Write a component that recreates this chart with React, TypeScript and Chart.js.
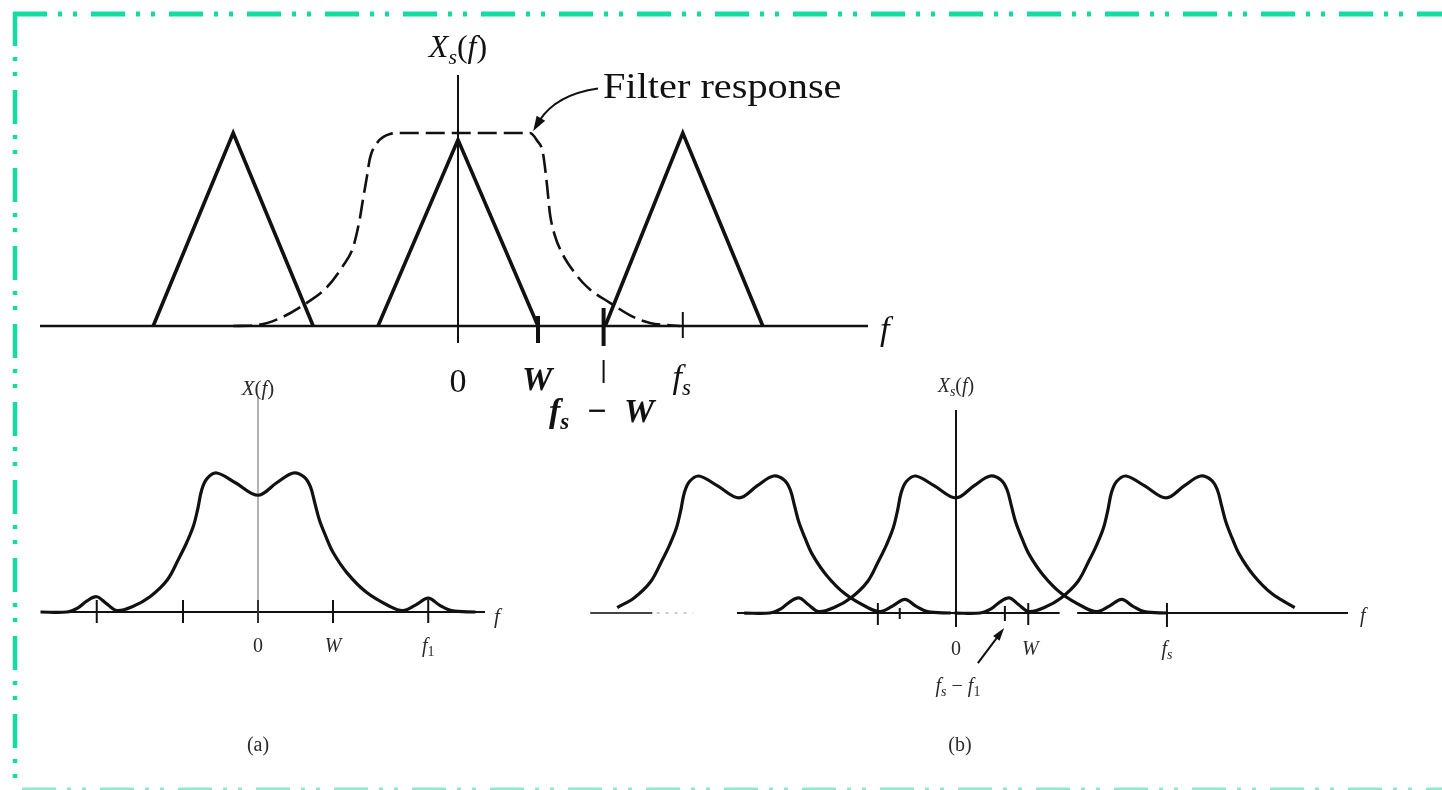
import React, { useEffect, useRef } from "react";
import { Chart, registerables } from "chart.js";

Chart.register(...registerables);

// ---------------- DATA (frequency in units of W, magnitude normalised) ----------------
// Top panel: sampled spectrum X_s(f) (three triangles) and the reconstruction filter
const TRI_LEFT_F = [-3.81, -2.81, -1.81];
const TRI_LEFT_MAG = [0, 1.0, 0];
const TRI_CENTER_F = [-1.0, 0, 1.0];
const TRI_CENTER_MAG = [0, 0.965, 0];
const TRI_RIGHT_F = [1.84, 2.81, 3.81];
const TRI_RIGHT_MAG = [0, 1.0, 0];

const FILTER_F = [-2.81, -2.51, -2.19, -1.89, -1.64, -1.44, -1.31, -1.23, -1.19, -1.14, -1.1, -1.01, -0.85, -0.72,
  0.9, 0.99, 1.06, 1.11, 1.15, 1.21, 1.31, 1.45, 1.62, 1.9, 2.19, 2.4, 2.78];
const FILTER_MAG = [0, 0.005, 0.047, 0.12, 0.2, 0.31, 0.41, 0.55, 0.65, 0.77, 0.87, 0.95, 0.995, 1.0,
  1.0, 0.96, 0.9, 0.74, 0.58, 0.47, 0.37, 0.28, 0.2, 0.12, 0.047, 0.016, 0];

const TOP_TICK_F = [0, 1, 1.82, 2.81]; // 0, W, fs-W, fs

// Panel (a): baseband spectrum X(f)
const XF_F = [-2.9, -2.55, -2.4, -2.28, -2.15, -2.02, -1.88, -1.67, -1.44, -1.21, -1.06, -0.95, -0.86, -0.8, -0.75,
  -0.68, -0.55, -0.3, 0, 0.25, 0.47, 0.62, 0.7, 0.76, 0.82, 0.9, 1.0, 1.19, 1.45, 1.76, 1.93, 2.1, 2.27, 2.42, 2.58, 2.9];
const XF_MAG = [0, 0, 0.03, 0.08, 0.11, 0.06, 0.01, 0.04, 0.11, 0.23, 0.38, 0.5, 0.62, 0.75, 0.88,
  0.96, 1.0, 0.93, 0.84, 0.93, 1.0, 0.97, 0.9, 0.78, 0.66, 0.55, 0.43, 0.28, 0.14, 0.04, 0.01, 0.05, 0.1, 0.05, 0.01, 0];
const A_TICK_F = [-2.15, -1, 0, 1, 2.27]; // -f1, -W, 0, W, f1

// Panel (b): spectrum copies centred at -fs, 0, fs (visible range of each copy, relative to its centre)
const B_COPY_SHIFT = [-2.97, 0, 2.88];
const B_COPY_FROM = [-1.7, -3, -3];
const B_COPY_TO = [3, 3, 1.77];
const B_TICK_F = [-1.07, -0.77, 0, 0.67, 0.99, 2.89]; // ..., 0, fs-f1, W, fs

// ---------------- TEXT ----------------
type Seg = { t: string; i?: boolean; b?: boolean; sub?: boolean };
const TOP_TITLE: Seg[] = [{ t: "X", i: true }, { t: "s", i: true, sub: true }, { t: "(" }, { t: "f", i: true }, { t: ")" }];
const FILTER_LABEL = "Filter response";
const TOP_TICK_LABELS: Seg[][] = [
  [{ t: "0" }],
  [{ t: "W", i: true, b: true }],
  [{ t: "f", i: true, b: true }, { t: "s", i: true, b: true, sub: true }, { t: "  \u2212  W", i: true, b: true }],
  [{ t: "f", i: true }, { t: "s", i: true, sub: true }],
];
const A_TITLE: Seg[] = [{ t: "X", i: true }, { t: "(" }, { t: "f", i: true }, { t: ")" }];
const A_TICK_LABELS: Seg[][] = [[], [], [{ t: "0" }], [{ t: "W", i: true }], [{ t: "f", i: true }, { t: "1", sub: true }]];
const B_TITLE: Seg[] = [{ t: "X", i: true }, { t: "s", i: true, sub: true }, { t: "(" }, { t: "f", i: true }, { t: ")" }];
const B_TICK_LABELS: Seg[][] = [[], [], [{ t: "0" }], [], [{ t: "W", i: true }], [{ t: "f", i: true }, { t: "s", i: true, sub: true }]];
const B_FS_F1: Seg[] = [{ t: "f", i: true }, { t: "s", i: true, sub: true }, { t: " \u2212 " }, { t: "f", i: true }, { t: "1", sub: true }];
const AXIS_F: Seg[] = [{ t: "f", i: true }];
const CAP_A: Seg[] = [{ t: "(a)" }];
const CAP_B: Seg[] = [{ t: "(b)" }];

// ---------------- STYLE / LAYOUT ----------------
const PAGE_W = 1442;
const PAGE_H = 790;
const INK = "#111";
const SOFT_INK = "#2a2a2a";
const BORDER = "#14dca0";
const FONT = '"Liberation Serif", "DejaVu Serif", "Times New Roman", serif';

type Pt = { x: number; y: number };
const pts = (xs: number[], ys: number[], shift = 0, from = -Infinity, to = Infinity): Pt[] =>
  xs.map((x, k) => ({ x, y: ys[k] })).filter((p) => p.x >= from && p.x <= to).map((p) => ({ x: p.x + shift, y: p.y }));

function drawRich(ctx: CanvasRenderingContext2D, segs: Seg[], x: number, y: number, size: number,
  align: "left" | "center" = "center", stretch = 1, color = INK) {
  if (!segs.length) return;
  const fontFor = (s: Seg) =>
    `${s.i ? "italic " : ""}${s.b ? "bold " : ""}${s.sub ? Math.round(size * 0.68) : size}px ${FONT}`;
  ctx.save();
  let total = 0;
  const widths = segs.map((s) => {
    ctx.font = fontFor(s);
    const w = ctx.measureText(s.t).width;
    total += w;
    return w;
  });
  ctx.translate(x, y);
  ctx.scale(stretch, 1);
  let cx = align === "center" ? -total / 2 : 0;
  ctx.fillStyle = color;
  ctx.textAlign = "left";
  ctx.textBaseline = "alphabetic";
  segs.forEach((s, k) => {
    ctx.font = fontFor(s);
    ctx.fillText(s.t, cx, s.sub ? size * 0.22 : 0);
    cx += widths[k];
  });
  ctx.restore();
}

function line(ctx: CanvasRenderingContext2D, x1: number, y1: number, x2: number, y2: number, w: number, color = INK, dash: number[] = []) {
  ctx.save();
  ctx.strokeStyle = color;
  ctx.lineWidth = w;
  ctx.setLineDash(dash);
  ctx.lineCap = "butt";
  ctx.beginPath();
  ctx.moveTo(x1, y1);
  ctx.lineTo(x2, y2);
  ctx.stroke();
  ctx.restore();
}

function arrowHead(ctx: CanvasRenderingContext2D, tx: number, ty: number, ang: number, len: number, half: number) {
  ctx.save();
  ctx.fillStyle = INK;
  ctx.beginPath();
  ctx.moveTo(tx, ty);
  ctx.lineTo(tx - len * Math.cos(ang) + half * Math.sin(ang), ty - len * Math.sin(ang) - half * Math.cos(ang));
  ctx.lineTo(tx - len * Math.cos(ang) - half * Math.sin(ang), ty - len * Math.sin(ang) + half * Math.cos(ang));
  ctx.closePath();
  ctx.fill();
  ctx.restore();
}

function drawBorder(ctx: CanvasRenderingContext2D) {
  const pattern = [34, 11, 4, 11, 4, 14];
  ctx.save();
  ctx.strokeStyle = BORDER;
  ctx.lineCap = "butt";
  ctx.setLineDash(pattern);
  ctx.lineWidth = 5;
  ctx.beginPath();
  ctx.moveTo(13, 14);
  ctx.lineTo(PAGE_W, 14);
  ctx.stroke();
  ctx.lineWidth = 4.5;
  ctx.beginPath();
  ctx.moveTo(15, 12);
  ctx.lineTo(15, PAGE_H);
  ctx.stroke();
  ctx.strokeStyle = "#8fe9cf";
  ctx.lineWidth = 3;
  ctx.beginPath();
  ctx.moveTo(22, 789);
  ctx.lineTo(PAGE_W, 789);
  ctx.stroke();
  ctx.restore();
}

type Panel = { left: number; right: number; top: number; bottom: number; xMin: number; xMax: number; yMin: number; yMax: number };

const TOP_PANEL: Panel = { left: 40, right: 868, top: 75, bottom: 343, xMin: -5.225, xMax: 5.125, yMin: -0.088, yMax: 1.3005 };
const A_PANEL: Panel = { left: 42, right: 485, top: 397, bottom: 623, xMin: -2.88, xMax: 3.027, yMin: -0.079, yMax: 1.547 };
const B_PANEL: Panel = { left: 580, right: 1348, top: 410, bottom: 627, xMin: -5.15, xMax: 5.37, yMin: -0.102, yMax: 1.482 };

function makeConfig(panel: Panel, datasets: any[], plugin: any): any {
  return {
    type: "line",
    data: { datasets },
    options: {
      responsive: false,
      animation: false,
      devicePixelRatio: 1,
      events: [],
      layout: {
        padding: { left: panel.left, top: panel.top, right: PAGE_W - panel.right, bottom: PAGE_H - panel.bottom },
      },
      scales: {
        x: { type: "linear", min: panel.xMin, max: panel.xMax, display: false },
        y: { type: "linear", min: panel.yMin, max: panel.yMax, display: false },
      },
      plugins: { legend: { display: false }, tooltip: { enabled: false } },
    },
    plugins: [plugin],
  };
}

const curveDs = (data: Pt[], width: number, extra: any = {}) => ({
  data,
  borderColor: INK,
  borderWidth: width,
  pointRadius: 0,
  fill: false,
  clip: false,
  borderJoinStyle: "round",
  ...extra,
});

function topConfig() {
  const tri = (f: number[], m: number[]) => curveDs(pts(f, m), 3.6, { tension: 0, borderJoinStyle: "miter" });
  const datasets = [
    tri(TRI_LEFT_F, TRI_LEFT_MAG),
    tri(TRI_CENTER_F, TRI_CENTER_MAG),
    tri(TRI_RIGHT_F, TRI_RIGHT_MAG),
    curveDs(pts(FILTER_F, FILTER_MAG), 2.6, { cubicInterpolationMode: "monotone", borderDash: [19, 7] }),
  ];
  const plugin = {
    id: "topDecor",
    beforeDatasetsDraw(chart: any) {
      const { ctx, scales } = chart;
      const X = (v: number) => scales.x.getPixelForValue(v);
      const Y = (v: number) => scales.y.getPixelForValue(v);
      line(ctx, X(TOP_PANEL.xMin), Y(0), X(TOP_PANEL.xMax), Y(0), 2.5);
      line(ctx, X(0), Y(TOP_PANEL.yMax), X(0), Y(TOP_PANEL.yMin), 2);
    },
    afterDatasetsDraw(chart: any) {
      const { ctx, scales } = chart;
      const X = (v: number) => scales.x.getPixelForValue(v);
      const Y = (v: number) => scales.y.getPixelForValue(v);
      const y0 = Y(0);
      // ticks
      line(ctx, X(TOP_TICK_F[1]), y0 - 10, X(TOP_TICK_F[1]), y0 + 17, 4);
      line(ctx, X(TOP_TICK_F[2]), y0 - 18, X(TOP_TICK_F[2]), y0 + 20, 4);
      line(ctx, X(TOP_TICK_F[2]), y0 + 34, X(TOP_TICK_F[2]), y0 + 57, 2);
      line(ctx, X(TOP_TICK_F[3]), y0 - 14, X(TOP_TICK_F[3]), y0 + 12, 2);
      // tick labels
      drawRich(ctx, TOP_TICK_LABELS[0], X(TOP_TICK_F[0]), y0 + 66, 34);
      drawRich(ctx, TOP_TICK_LABELS[1], X(TOP_TICK_F[1]) - 1, y0 + 64, 34);
      drawRich(ctx, TOP_TICK_LABELS[2], X(TOP_TICK_F[2]) - 2, y0 + 96, 34);
      drawRich(ctx, TOP_TICK_LABELS[3], X(TOP_TICK_F[3]) - 1, y0 + 62, 34);
      drawRich(ctx, AXIS_F, X(TOP_PANEL.xMax) + 12, y0 + 14, 34, "left");
      drawRich(ctx, TOP_TITLE, X(0), Y(TOP_PANEL.yMax) - 18, 32);
      // filter response annotation
      const tipX = X(0.94), tipY = Y(1.01);
      const sx = X(1.75), sy = Y(1.23);
      ctx.save();
      ctx.strokeStyle = INK;
      ctx.lineWidth = 2;
      ctx.beginPath();
      ctx.moveTo(sx, sy);
      ctx.quadraticCurveTo(sx - 42, sy + 6, tipX + 6, tipY - 10);
      ctx.stroke();
      ctx.restore();
      arrowHead(ctx, tipX, tipY, Math.atan2(10, -6), 15, 5);
      drawRich(ctx, [{ t: FILTER_LABEL }], sx + 5, sy + 9, 36, "left", 1.12);
    },
    afterDraw(chart: any) {
      drawBorder(chart.ctx);
    },
  };
  return makeConfig(TOP_PANEL, datasets, plugin);
}

const SMOOTH = { tension: 0.35 };

function aConfig() {
  const datasets = [curveDs(pts(XF_F, XF_MAG), 3.2, SMOOTH)];
  const plugin = {
    id: "aDecor",
    beforeDatasetsDraw(chart: any) {
      const { ctx, scales } = chart;
      const X = (v: number) => scales.x.getPixelForValue(v);
      const Y = (v: number) => scales.y.getPixelForValue(v);
      line(ctx, X(A_PANEL.xMin), Y(0), X(A_PANEL.xMax), Y(0), 2);
      line(ctx, X(0), Y(A_PANEL.yMax), X(0), Y(A_PANEL.yMin), 1.5, "#9a9a9a");
    },
    afterDatasetsDraw(chart: any) {
      const { ctx, scales } = chart;
      const X = (v: number) => scales.x.getPixelForValue(v);
      const Y = (v: number) => scales.y.getPixelForValue(v);
      const y0 = Y(0);
      A_TICK_F.forEach((f, k) => {
        line(ctx, X(f), y0 - 12, X(f), y0 + 11, 2, k === 2 ? "#333" : INK);
        drawRich(ctx, A_TICK_LABELS[k], X(f), y0 + 40, 20, "center", 1, SOFT_INK);
      });
      drawRich(ctx, AXIS_F, X(A_PANEL.xMax) + 9, y0 + 11, 21, "left", 1, SOFT_INK);
      drawRich(ctx, A_TITLE, X(0), Y(A_PANEL.yMax) - 2, 21, "center", 1, SOFT_INK);
      drawRich(ctx, CAP_A, X(0), y0 + 139, 20, "center", 1, SOFT_INK);
    },
  };
  return makeConfig(A_PANEL, datasets, plugin);
}

function bConfig() {
  const datasets = B_COPY_SHIFT.map((s, k) =>
    curveDs(pts(XF_F, XF_MAG, s, B_COPY_FROM[k], B_COPY_TO[k]), 3.2, SMOOTH)
  );
  const plugin = {
    id: "bDecor",
    beforeDatasetsDraw(chart: any) {
      const { ctx, scales } = chart;
      const X = (v: number) => scales.x.getPixelForValue(v);
      const Y = (v: number) => scales.y.getPixelForValue(v);
      const y0 = Y(0);
      line(ctx, X(-5.01), y0, X(-4.16), y0, 2, "#444");
      line(ctx, X(-4.1), y0, X(-3.6), y0, 1.5, "#bbb", [3, 6]);
      line(ctx, X(-3.0), y0, X(1.42), y0, 2);
      line(ctx, X(1.66), y0, X(B_PANEL.xMax), y0, 2);
      line(ctx, X(0), Y(B_PANEL.yMax), X(0), Y(B_PANEL.yMin), 2);
    },
    afterDatasetsDraw(chart: any) {
      const { ctx, scales } = chart;
      const X = (v: number) => scales.x.getPixelForValue(v);
      const Y = (v: number) => scales.y.getPixelForValue(v);
      const y0 = Y(0);
      const tickSpan = [[-10, 12], [-5, 6], [0, 0], [-7, 8], [-10, 12], [-10, 14]];
      B_TICK_F.forEach((f, k) => {
        if (k !== 2) line(ctx, X(f), y0 + tickSpan[k][0], X(f), y0 + tickSpan[k][1], 2);
        drawRich(ctx, B_TICK_LABELS[k], X(f) + (k === 4 ? 2 : 0), y0 + 42, 20, "center", 1, SOFT_INK);
      });
      drawRich(ctx, AXIS_F, X(B_PANEL.xMax) + 12, y0 + 9, 20, "left", 1, SOFT_INK);
      drawRich(ctx, B_TITLE, X(0), Y(B_PANEL.yMax) - 18, 20, "center", 1, SOFT_INK);
      drawRich(ctx, B_FS_F1, X(0) + 2, y0 + 79, 20, "center", 1, SOFT_INK);
      drawRich(ctx, CAP_B, X(0) + 4, y0 + 138, 20, "center", 1, SOFT_INK);
      // arrow pointing at fs - f1
      const tx = X(0.66), ty = y0 + 15;
      const fx = X(0.3), fy = y0 + 50;
      line(ctx, fx, fy, tx - 3, ty + 4, 2);
      arrowHead(ctx, tx, ty, Math.atan2(ty - fy, tx - fx), 13, 4);
    },
  };
  return makeConfig(B_PANEL, datasets, plugin);
}

export default function App() {
  const topRef = useRef<HTMLCanvasElement>(null);
  const aRef = useRef<HTMLCanvasElement>(null);
  const bRef = useRef<HTMLCanvasElement>(null);

  useEffect(() => {
    const charts = [
      new Chart(topRef.current as HTMLCanvasElement, topConfig()),
      new Chart(aRef.current as HTMLCanvasElement, aConfig()),
      new Chart(bRef.current as HTMLCanvasElement, bConfig()),
    ];
    return () => charts.forEach((c) => c.destroy());
  }, []);

  const cs: React.CSSProperties = { position: "absolute", left: 0, top: 0, width: PAGE_W, height: PAGE_H };
  return (
    <div style={{ position: "absolute", left: 0, top: 0, width: PAGE_W, height: PAGE_H, background: "#fff", overflow: "hidden" }}>
      <canvas ref={topRef} width={PAGE_W} height={PAGE_H} style={cs} />
      <canvas ref={aRef} width={PAGE_W} height={PAGE_H} style={cs} />
      <canvas ref={bRef} width={PAGE_W} height={PAGE_H} style={cs} />
    </div>
  );
}
